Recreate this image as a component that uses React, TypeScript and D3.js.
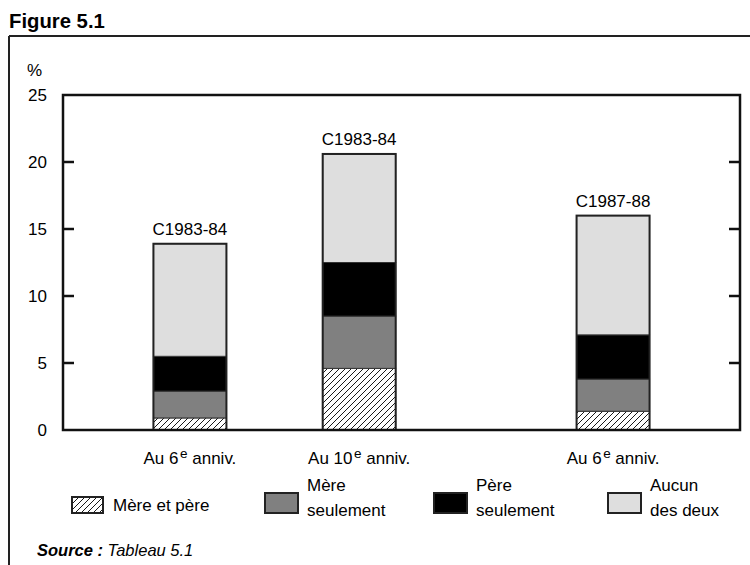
import React from "react";
import * as d3 from "d3";

const categories = ["Au 6|e| anniv.", "Au 10|e| anniv.", "Au 6|e| anniv."];
const cohortLabels = ["C1983-84", "C1983-84", "C1987-88"];
const xPositions = [0, 1, 2.5];
const seriesNames = ["Mère et père", "Mère seulement", "Père seulement", "Aucun des deux"];
const legendLines = [["Mère et père"], ["Mère", "seulement"], ["Père", "seulement"], ["Aucun", "des deux"]];
const merePere = [0.9, 4.6, 1.4];
const mereSeul = [2.0, 3.9, 2.4];
const pereSeul = [2.6, 4.0, 3.3];
const aucun = [8.4, 8.1, 8.9];
const yTicks = [0, 5, 10, 15, 20, 25];

const fills = ["url(#hatch)", "#808080", "#000000", "#dedede"];
const FONT = "'Liberation Sans', Arial, sans-serif";
const FS = 17;

export default function App() {
  const W = 750, H = 565;
  const left = 63, right = 740, top = 95, bottom = 430;
  const x = d3.scaleLinear().domain([-0.75, 3.25]).range([left, right]);
  const y = d3.scaleLinear().domain([0, 25]).range([bottom, top]);
  const bw = 73;

  const rows = categories.map((c, i) => ({
    i,
    vals: [merePere[i], mereSeul[i], pereSeul[i], aucun[i]],
  }));
  const stack = d3.stack<any>().keys(["0", "1", "2", "3"]).value((d: any, k: string) => d.vals[+k]);
  const stacked = stack(rows);

  const legendX = [72, 265, 434, 608];

  return (
    <svg width={W} height={H} style={{ position: "absolute", left: 0, top: 0, background: "#fff" }} fontFamily={FONT}>
      <defs>
        <pattern id="hatch" patternUnits="userSpaceOnUse" width="6" height="6">
          <rect width="6" height="6" fill="#fff" />
          <path d="M-1,7 L7,-1 M-4,4 L4,-4 M2,10 L10,2" stroke="#000" strokeWidth="0.9" />
        </pattern>
      </defs>
      <rect x={0} y={0} width={W} height={H} fill="#fff" />
      <text x={9} y={28} fontSize={20.3} fontWeight="bold" fill="#000">Figure 5.1</text>
      {/* frame */}
      <line x1={9} y1={36} x2={W} y2={36} stroke="#222" strokeWidth={2} />
      <line x1={9} y1={36} x2={9} y2={H} stroke="#222" strokeWidth={2} />

      <text x={27} y={76} fontSize={FS}>%</text>
      {yTicks.map((t) => (
        <g key={t}>
          <text x={47} y={y(t) + 6} fontSize={FS} textAnchor="end">{t}</text>
          {t > 0 && t < 25 && (
            <>
              <line x1={left} x2={left + 11} y1={y(t)} y2={y(t)} stroke="#111" strokeWidth={2.5} />
              <line x1={right - 11} x2={right} y1={y(t)} y2={y(t)} stroke="#111" strokeWidth={2.5} />
            </>
          )}
        </g>
      ))}

      {stacked.map((s, si) => (
        <g key={si}>
          {s.map((d, i) => (
            <rect
              key={i}
              x={x(xPositions[i]) - bw / 2}
              width={bw}
              y={y(d[1])}
              height={y(d[0]) - y(d[1])}
              fill={fills[si]}
              stroke="#333"
              strokeWidth={1}
            />
          ))}
        </g>
      ))}
      {rows.map((r, i) => {
        const total = d3.sum(r.vals);
        return (
          <g key={i}>
            <rect x={x(xPositions[i]) - bw / 2} width={bw} y={y(total)} height={y(0) - y(total)} fill="none" stroke="#222" strokeWidth={2} />
            <text x={x(xPositions[i])} y={y(total) - 9} fontSize={FS} textAnchor="middle">{cohortLabels[i]}</text>
          </g>
        );
      })}

      {/* plot frame */}
      <rect x={left} y={top} width={right - left} height={bottom - top} fill="none" stroke="#111" strokeWidth={2.5} />

      {categories.map((c, i) => {
        const [a, sup, b] = c.split("|");
        return (
          <text key={i} x={x(xPositions[i])} y={464} fontSize={FS} textAnchor="middle">
            {a}
            <tspan fontSize={13.5} dx={1.5} dy={-6}>{sup}</tspan>
            <tspan dy={6}>{b}</tspan>
          </text>
        );
      })}

      {seriesNames.map((n, i) => {
        const lx = legendX[i];
        const isH = i === 0;
        return (
          <g key={n}>
            <rect x={lx} y={isH ? 497 : 493} width={isH ? 31 : 33} height={isH ? 16 : 20} fill={fills[i]} stroke="#222" strokeWidth={2} />
            {legendLines[i].length === 1 ? (
              <text x={lx + 41} y={511} fontSize={FS}>{legendLines[i][0]}</text>
            ) : (
              legendLines[i].map((l, k) => (
                <text key={k} x={lx + 42} y={491 + k * 25} fontSize={FS}>{l}</text>
              ))
            )}
          </g>
        );
      })}

      <text x={37} y={556} fontSize={16.5} fontStyle="italic">
        <tspan fontWeight="bold">Source :</tspan> Tableau 5.1
      </text>
    </svg>
  );
}
